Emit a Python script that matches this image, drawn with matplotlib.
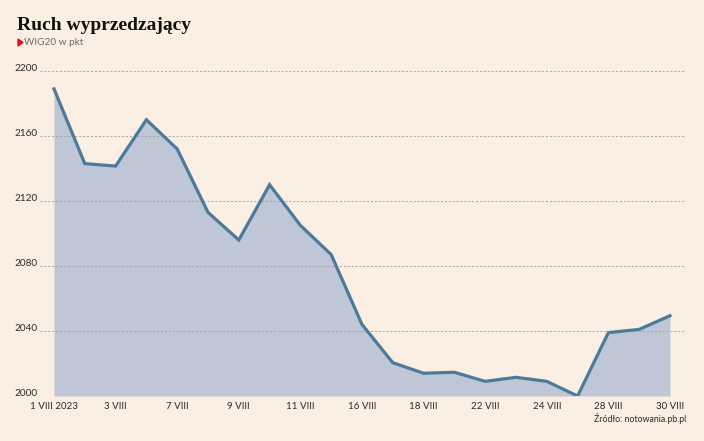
import matplotlib.pyplot as plt
from matplotlib.patches import Polygon

# WIG20 closing values, August 2023 sessions
days = ["1", "2", "3", "4", "7", "8", "9", "10", "11", "14", "16",
        "17", "18", "21", "22", "23", "24", "25", "28", "29", "30"]
wig20 = [2189, 2143, 2141.5, 2170, 2152, 2113, 2096, 2130, 2105, 2087, 2044,
         2020.5, 2014, 2014.6, 2009, 2011.5, 2009, 2000, 2039, 2041, 2049.4]
label_days = ["1", "3", "7", "9", "11", "16", "18", "22", "24", "28", "30"]
y_ticks = [2000, 2040, 2080, 2120, 2160, 2200]

BG = "#fbeee2"
FILL = "#bfc7d7"
LINE = "#4b7a9a"
TXT = "#2b2b2b"


def main():
    plt.rcParams["font.family"] = ["Lato", "DejaVu Sans"]
    fig = plt.figure(figsize=(7.04, 4.41), dpi=100, facecolor=BG)
    ax = fig.add_axes([40 / 704, 45 / 441, 646 / 704, 325 / 441])
    ax.set_facecolor(BG)

    x = list(range(len(wig20)))
    ax.fill_between(x, wig20, 2000, color=FILL, lw=0, zorder=1)
    ax.plot(x, wig20, color=LINE, lw=2.3, solid_joinstyle="miter", zorder=3)

    step = 616 / 20
    ax.set_xlim(-14 / step, 20 + 16 / step)
    ax.set_ylim(2000, 2200)

    for v in y_ticks:
        ax.axhline(v, color="#a8a39e", lw=0.7, ls=(0, (2, 2)), zorder=2)
        ax.text(-0.003, v, str(v), transform=ax.get_yaxis_transform(),
                ha="right", va="baseline", fontsize=7.2, color=TXT)

    pos = [days.index(d) for d in label_days]
    labels = [d + " VIII" for d in label_days]
    labels[0] = "1 VIII 2023"
    ax.set_xticks(pos)
    ax.set_xticklabels(labels, fontsize=7, color=TXT)
    ax.tick_params(axis="x", length=0, pad=4)
    ax.set_yticks([])
    for s in ax.spines.values():
        s.set_visible(False)

    fig.text(17 / 704, 1 - 25 / 441, "Ruch wyprzedzający", fontsize=14,
             fontweight="bold", family="Liberation Serif", color="#111111",
             va="center", ha="left")
    tri = Polygon([[18 / 704, 1 - 39 / 441], [18 / 704, 1 - 46 / 441],
                   [23 / 704, 1 - 42.5 / 441]], closed=True,
                  transform=fig.transFigure, color="#e3111b")
    fig.patches.append(tri)
    fig.text(24 / 704, 1 - 42.5 / 441, "WIG20 w pkt", fontsize=7.2,
             color="#6b6b6b", va="center", ha="left")
    fig.text(686 / 704, 1 - 419 / 441, "Źródło: notowania.pb.pl",
             fontsize=6.3, color=TXT, va="center", ha="right")

    fig.savefig("out.png", dpi=100, facecolor=BG)


if __name__ == "__main__":
    main()
